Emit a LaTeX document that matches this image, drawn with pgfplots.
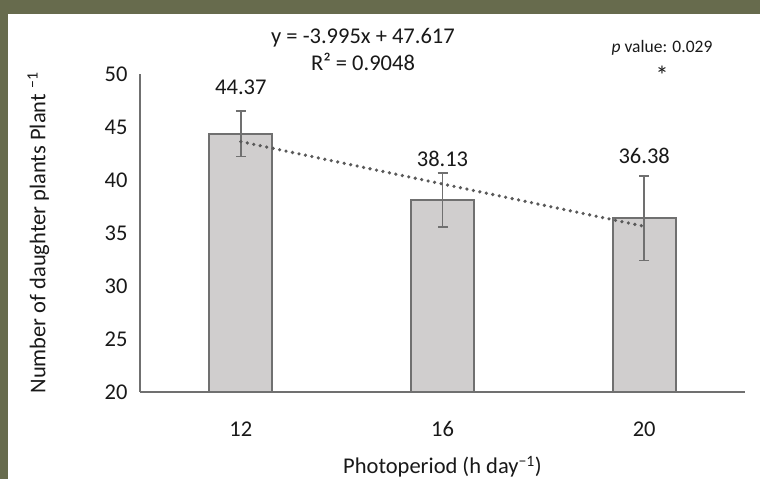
\documentclass[border=0pt]{standalone}
\usepackage{fontspec}
\setmainfont{Carlito}
\usepackage{pgfplots}
\pgfplotsset{compat=1.18}
\definecolor{bordercol}{RGB}{103,107,77}
\definecolor{barfill}{RGB}{208,206,206}
\definecolor{edgecol}{RGB}{112,112,112}
\definecolor{trendcol}{RGB}{89,89,89}
\definecolor{txt}{RGB}{25,25,25}
\begin{document}
\begin{tikzpicture}[x=1pt,y=1pt]
\fill[bordercol] (0,0) rectangle (760,479);
\fill[white] (8,0) rectangle (760,465);
\begin{axis}[
  at={(140pt,87pt)}, anchor=south west,
  scale only axis, width=605pt, height=318pt,
  xmin=-0.5, xmax=2.5, ymin=20, ymax=50,
  ytick={20,25,30,35,40,45,50},
  xtick={0,1,2}, xticklabels={12,16,20},
  axis x line*=bottom, axis y line*=left,
  axis line style={edgecol, line width=1.8pt, -},
  major tick length=0pt,
  /pgf/number format/assume math mode=true,
  tick label style={font=\fontsize{22.5}{27}\selectfont, text=txt},
  yticklabel style={xshift=-9pt},
  xticklabel style={yshift=-26pt},
  xlabel={Photoperiod (h day\textsuperscript{−1})},
  xlabel style={font=\fontsize{22.5}{27}\selectfont, text=txt, at={(axis description cs:0.5,-0.235)}, anchor=center},
  ylabel={Number of daughter plants Plant \textsuperscript{−1}},
  ylabel style={font=\fontsize{22.5}{27}\selectfont, text=txt, at={(axis description cs:-0.168,0.5)}, anchor=center},
  clip=true,
]
\addplot[ybar, bar width=63pt, fill=barfill, draw=edgecol, line width=1.8pt,
  error bars/.cd, y dir=both, y explicit,
  error bar style={edgecol, line width=1.8pt},
  error mark options={rotate=90, mark size=5pt, edgecol, line width=1.8pt}]
  coordinates {(0,44.37) +- (0,2.15) (1,38.13) +- (0,2.54) (2,36.38) +- (0,3.98)};
\addplot[trendcol, line width=3.6pt, dash pattern=on 0pt off 6.6pt, line cap=round]
  coordinates {(0,43.62) (2,35.63)};
\node[font=\fontsize{22.5}{27}\selectfont, text=txt] at (axis cs:0,48.77) {44.37};
\node[font=\fontsize{22.5}{27}\selectfont, text=txt] at (axis cs:1,41.98) {38.13};
\node[font=\fontsize{22.5}{27}\selectfont, text=txt] at (axis cs:2,42.26) {36.38};
\end{axis}
\node[font=\fontsize{22.5}{27}\selectfont, text=txt] at (363,441) {y = -3.995x + 47.617};
\node[font=\fontsize{22.5}{27}\selectfont, text=txt] at (363,417) {R² = 0.9048};
\node[font=\fontsize{17.5}{21}\selectfont, text=txt] at (662,431) {\textit{p} value: 0.029};
\node[font=\fontsize{26}{30}\selectfont, text=txt] at (662,404) {*};
\end{tikzpicture}
\end{document}
